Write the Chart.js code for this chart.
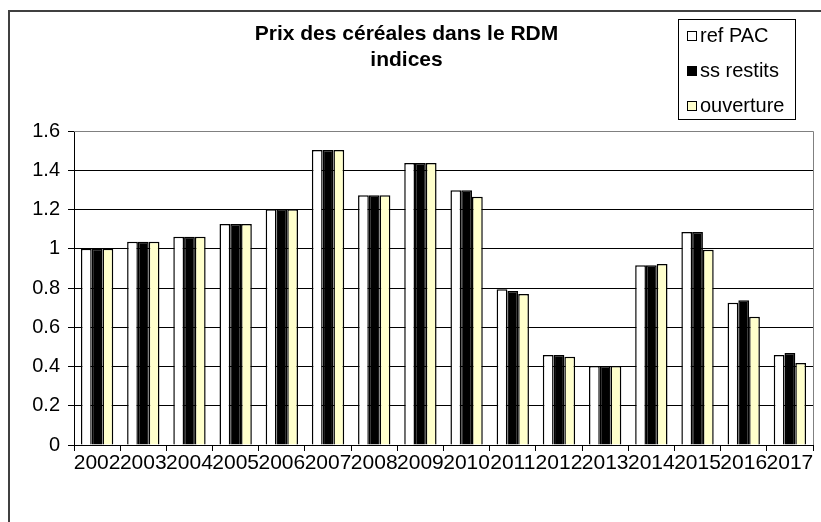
<!DOCTYPE html>
<html>
<head>
<meta charset="utf-8">
<script src="https://cdn.jsdelivr.net/npm/chart.js@4/dist/chart.umd.min.js"></script>
<style>
  body { margin: 0; background: #fff; }
  .chartBox { width: 821px; height: 522px; position: relative; }
</style>
</head>
<body>
<div class="chartBox">
  <canvas id="chart"></canvas>
</div>
<script>
const years = ["2002","2003","2004","2005","2006","2007","2008","2009","2010","2011","2012","2013","2014","2015","2016","2017"]
const refPac = [1.00,1.036,1.061,1.126,1.201,1.503,1.272,1.437,1.298,0.793,0.459,0.403,0.916,1.085,0.725,0.459]
const ssRestits = [1.00,1.036,1.061,1.126,1.201,1.503,1.272,1.437,1.298,0.785,0.459,0.403,0.916,1.085,0.737,0.469]
const ouverture = [1.00,1.036,1.061,1.126,1.201,1.503,1.272,1.437,1.265,0.769,0.450,0.403,0.922,0.995,0.654,0.418]
const yTickLabels = ["0","0.2","0.4","0.6","0.8","1","1.2","1.4","1.6"]

const FONT = "'Liberation Sans', Arial, sans-serif"

// excel-like frame, plot border and boxed legend
const excelLook = {
  id: "excelLook",
  beforeDraw(chart) {
    const ctx = chart.ctx
    ctx.save()
    ctx.strokeStyle = "#404040"
    ctx.lineWidth = 2
    ctx.strokeRect(9, 11, 900, 600)
    ctx.restore()
  },
  beforeDatasetsDraw(chart) {
    const ctx = chart.ctx
    const a = chart.chartArea
    ctx.save()
    ctx.strokeStyle = "#808080"
    ctx.lineWidth = 1
    ctx.beginPath()
    ctx.moveTo(a.left, Math.round(a.top) + 0.5)
    ctx.lineTo(Math.round(a.right) + 0.5, Math.round(a.top) + 0.5)
    ctx.lineTo(Math.round(a.right) + 0.5, a.bottom)
    ctx.stroke()
    ctx.restore()
  },
  afterDraw(chart) {
    const ctx = chart.ctx
    ctx.save()
    ctx.strokeStyle = "#000"
    ctx.lineWidth = 1
    ctx.strokeRect(678.5, 19.5, 117, 100)
    ctx.font = "20px " + FONT
    ctx.textBaseline = "middle"
    chart.data.datasets.forEach((ds, i) => {
      const y = 36 + i * 35
      ctx.fillStyle = ds.backgroundColor
      ctx.fillRect(687, y - 5, 10, 10)
      ctx.strokeRect(687.5, y - 4.5, 9, 9)
      ctx.fillStyle = "#000"
      ctx.fillText(ds.label, 700, y)
    })
    ctx.restore()
  }
}

new Chart(document.getElementById("chart"), {
  type: "bar",
  plugins: [excelLook],
  data: {
    labels: years,
    datasets: [
      { label: "ref PAC", data: refPac, backgroundColor: "#ffffff" },
      { label: "ss restits", data: ssRestits, backgroundColor: "#000000" },
      { label: "ouverture", data: ouverture, backgroundColor: "#ffffcc" },
    ],
  },
  options: {
    responsive: true,
    maintainAspectRatio: false,
    animation: false,
    datasets: {
      bar: {
        borderColor: "#000",
        borderWidth: 1.5,
        categoryPercentage: 0.7,
        barPercentage: 1,
      },
    },
    layout: { padding: { left: 0, right: 8, top: 0, bottom: 0 } },
    plugins: {
      legend: { display: false },
      tooltip: { enabled: false },
      title: {
        display: true,
        text: ["Prix des céréales dans le RDM", "indices"],
        color: "#000",
        font: { family: FONT, size: 21, weight: "bold", lineHeight: "26px" },
        padding: { top: 21, bottom: 58 },
      },
    },
    scales: {
      x: {
        afterFit: s => { s.height = 77 },
        border: { color: "#000", width: 1 },
        grid: { offset: true, drawOnChartArea: false, tickLength: 6, tickColor: "#000" },
        ticks: {
          color: "#000",
          font: { family: FONT, size: 21 },
          maxRotation: 0,
          minRotation: 0,
          autoSkip: false,
          padding: 0,
        },
      },
      y: {
        min: 0,
        max: 1.6,
        afterFit: s => { s.width = 74 },
        border: { color: "#000", width: 1 },
        grid: {
          color: c => (c.index === 8 ? "#808080" : "#000"),
          tickLength: 6,
          tickColor: "#000",
        },
        ticks: {
          stepSize: 0.2,
          color: "#000",
          font: { family: FONT, size: 20 },
          padding: 8,
          callback: (v, i) => yTickLabels[i],
        },
      },
    },
  },
})
</script>
</body>
</html>
